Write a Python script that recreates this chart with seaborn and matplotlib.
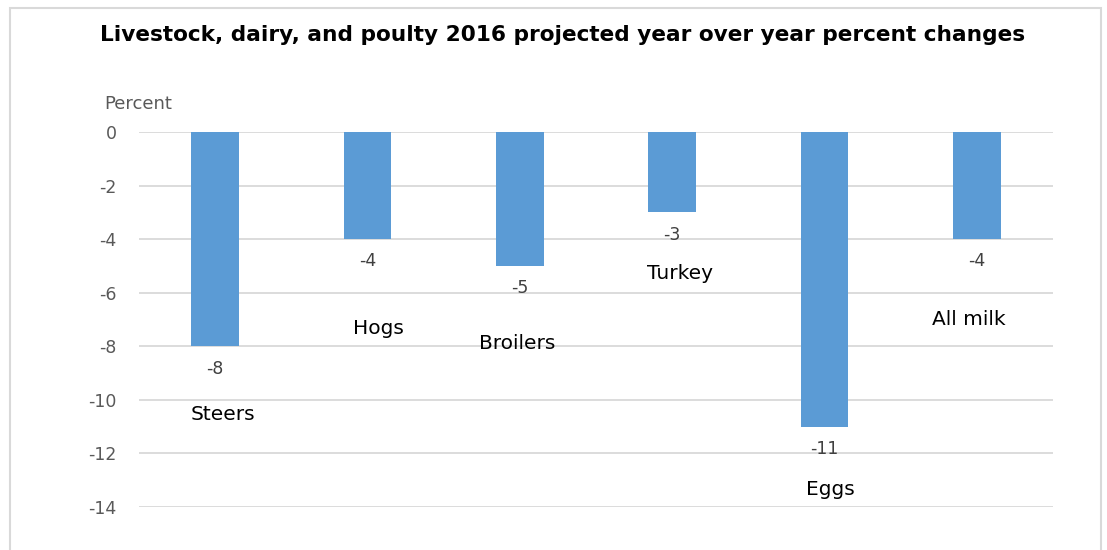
import matplotlib
matplotlib.use("Agg")
import matplotlib.pyplot as plt
import seaborn as sns
import pandas as pd
from matplotlib.patches import Rectangle

categories = ["Steers", "Hogs", "Broilers", "Turkey", "Eggs", "All milk"]
values = [-8, -4, -5, -3, -11, -4]
value_labels = ["-8", "-4", "-5", "-3", "-11", "-4"]
yticks = [0, -2, -4, -6, -8, -10, -12, -14]

# layout positions for category name labels (x offset, y position in data units)
name_dx = [0.05, 0.07, -0.02, 0.05, 0.04, -0.05]
name_y = [-10.56, -7.35, -7.91, -5.30, -13.36, -7.01]

sns.set_theme(style="white")
plt.rcParams["font.family"] = ["DejaVu Sans"]

df = pd.DataFrame({"cat": categories, "val": values})

fig = plt.figure(figsize=(11.07, 5.5), dpi=100)
ax = fig.add_axes([139 / 1107, 1 - 507 / 550, (1053 - 139) / 1107, (507 - 132) / 550])

sns.barplot(data=df, x="cat", y="val", color="#5B9BD5", width=0.315,
            saturation=1, ax=ax, zorder=3, edgecolor="none", linewidth=0)

ax.set_ylim(-14, 0)
ax.set_xlim(-0.5, len(categories) - 0.5)
ax.set_yticks(yticks)
ax.set_yticklabels([str(t) for t in yticks], color="#595959", fontsize=12.5)
ax.set_xticks([])
ax.set_xlabel("")
ax.set_ylabel("")
ax.tick_params(axis="y", length=0, pad=16)
for s in ax.spines.values():
    s.set_visible(False)
ax.grid(axis="y", color="#D9D9D9", linewidth=1.3, zorder=0)
ax.set_axisbelow(True)

for i, (v, lab) in enumerate(zip(values, value_labels)):
    ax.annotate(lab, xy=(i, v), xytext=(0, -16), textcoords="offset points",
                ha="center", va="center", fontsize=12.5, color="#404040")
    ax.text(i + name_dx[i], name_y[i], categories[i], ha="center", va="center",
            fontsize=14.5, color="black")

fig.text(104 / 1107, 1 - 104 / 550, "Percent", ha="left", va="center",
         fontsize=13, color="#595959")
fig.text(563 / 1107, 1 - 35 / 550,
         "Livestock, dairy, and poulty 2016 projected year over year percent changes",
         ha="center", va="center", fontsize=15.6, fontweight="bold", color="black")

fig.patches.append(Rectangle((10 / 1107, -0.05), (1101 - 10) / 1107, 1.05 - 8 / 550,
                             transform=fig.transFigure, fill=False,
                             edgecolor="#D9D9D9", linewidth=1.5))

fig.savefig("out.png", dpi=100)
